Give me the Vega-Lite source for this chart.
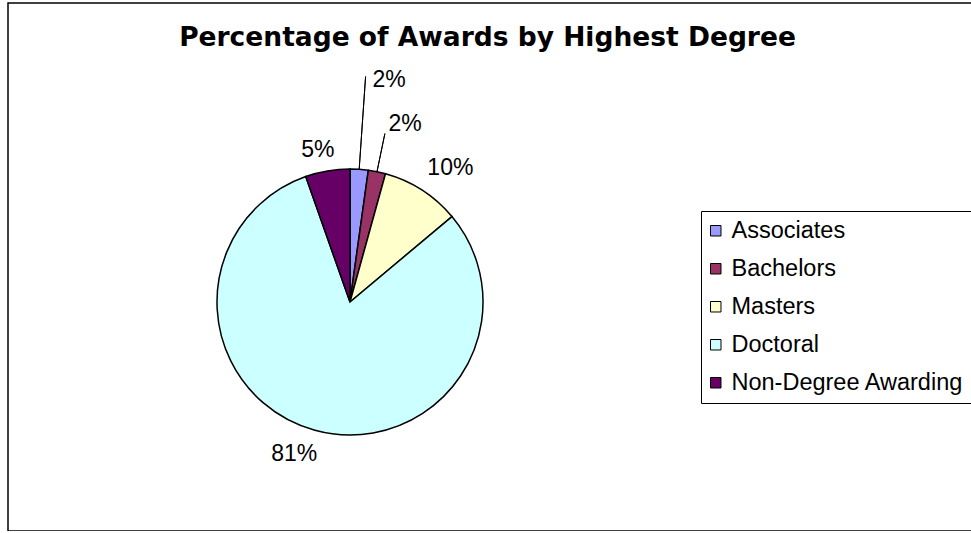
{
  "$schema": "https://vega.github.io/schema/vega-lite/v6.json",
  "width": 975,
  "height": 528,
  "autosize": {"type": "none"},
  "padding": {"left": 8, "top": 3, "right": 0, "bottom": 0},
  "background": "white",
  "view": {"stroke": "#000000", "strokeWidth": 1.5, "fill": "white"},
  "config": {
    "view": {"stroke": "#000000", "strokeWidth": 1.5},
    "font": "Liberation Sans"
  },
  "title": {
    "text": "Percentage of Awards by Highest Degree",
    "font": "DejaVu Sans",
    "fontSize": 26.5,
    "fontWeight": "bold",
    "color": "#000000",
    "anchor": "middle",
    "frame": "group",
    "orient": "top",
    "baseline": "alphabetic",
    "offset": -40,
    "dx": -8,
    "dy": 29
  },
  "data": {
    "values": [
      {"degree": "Associates", "share": 0.022, "rank": 1},
      {"degree": "Bachelors", "share": 0.021, "rank": 2},
      {"degree": "Masters", "share": 0.096, "rank": 3},
      {"degree": "Doctoral", "share": 0.807, "rank": 4},
      {"degree": "Non-Degree Awarding", "share": 0.054, "rank": 5}
    ]
  },
  "encoding": {
    "theta": {"field": "share", "type": "quantitative", "stack": true},
    "order": {"field": "rank", "type": "quantitative"}
  },
  "layer": [
    {
      "mark": {"type": "arc", "x": 342, "y": 299, "radius": 133, "stroke": "#000000", "strokeWidth": 1.5},
      "encoding": {
        "color": {
          "field": "degree",
          "type": "nominal",
          "sort": ["Associates", "Bachelors", "Masters", "Doctoral", "Non-Degree Awarding"],
          "scale": {
            "domain": ["Associates", "Bachelors", "Masters", "Doctoral", "Non-Degree Awarding"],
            "range": ["#9999FF", "#993366", "#FFFFCC", "#CCFFFF", "#660066"]
          },
          "legend": {
            "orient": "none",
            "legendX": 693,
            "legendY": 208,
            "title": null,
            "strokeColor": "#000000",
            "padding": 8,
            "symbolType": "square",
            "symbolSize": 110,
            "symbolOffset": -5,
            "symbolStrokeColor": "#000000",
            "symbolStrokeWidth": 1,
            "symbolOpacity": 1,
            "labelFont": "Liberation Sans",
            "labelFontSize": 23.5,
            "labelColor": "#000000",
            "labelOffset": 4,
            "labelLimit": 400,
            "rowPadding": 13
          }
        }
      }
    },
    {
      "mark": {"type": "arc", "x": 342, "y": 299, "radius": 226, "radius2": 133, "padAngle": 0.3, "fillOpacity": 0, "stroke": "#000000", "strokeWidth": 1},
      "encoding": {
        "strokeOpacity": {"condition": {"test": "datum.rank == 1", "value": 1}, "value": 0}
      }
    },
    {
      "mark": {"type": "arc", "x": 342, "y": 299, "radius": 172, "radius2": 133, "padAngle": 0.3, "fillOpacity": 0, "stroke": "#000000", "strokeWidth": 1},
      "encoding": {
        "strokeOpacity": {"condition": {"test": "datum.rank == 2", "value": 1}, "value": 0}
      }
    },
    {
      "mark": {"type": "text", "x": 342, "y": 299, "radius": 225, "dx": 23.5, "dy": 2.5, "fontSize": 23, "font": "Liberation Sans", "color": "#000000", "align": "center", "baseline": "middle"},
      "encoding": {
        "text": {"condition": {"test": "datum.rank == 1", "field": "share", "type": "quantitative", "format": ".0%"}, "value": ""}
      }
    },
    {
      "mark": {"type": "text", "x": 342, "y": 299, "radius": 183, "dx": 18, "dy": 1, "fontSize": 23, "font": "Liberation Sans", "color": "#000000", "align": "center", "baseline": "middle"},
      "encoding": {
        "text": {"condition": {"test": "datum.rank == 2", "field": "share", "type": "quantitative", "format": ".0%"}, "value": ""}
      }
    },
    {
      "mark": {"type": "text", "x": 342, "y": 299, "radius": 167, "dx": 10, "dy": 6, "fontSize": 23, "font": "Liberation Sans", "color": "#000000", "align": "center", "baseline": "middle"},
      "encoding": {
        "text": {"condition": {"test": "datum.rank == 3", "field": "share", "type": "quantitative", "format": ".0%"}, "value": ""}
      }
    },
    {
      "mark": {"type": "text", "x": 342, "y": 299, "radius": 162, "dx": -13, "dy": -4, "fontSize": 23, "font": "Liberation Sans", "color": "#000000", "align": "center", "baseline": "middle"},
      "encoding": {
        "text": {"condition": {"test": "datum.rank == 4", "field": "share", "type": "quantitative", "format": ".0%"}, "value": ""}
      }
    },
    {
      "mark": {"type": "text", "x": 342, "y": 299, "radius": 155, "dx": -6, "dy": 1, "fontSize": 23, "font": "Liberation Sans", "color": "#000000", "align": "center", "baseline": "middle"},
      "encoding": {
        "text": {"condition": {"test": "datum.rank == 5", "field": "share", "type": "quantitative", "format": ".0%"}, "value": ""}
      }
    }
  ]
}
